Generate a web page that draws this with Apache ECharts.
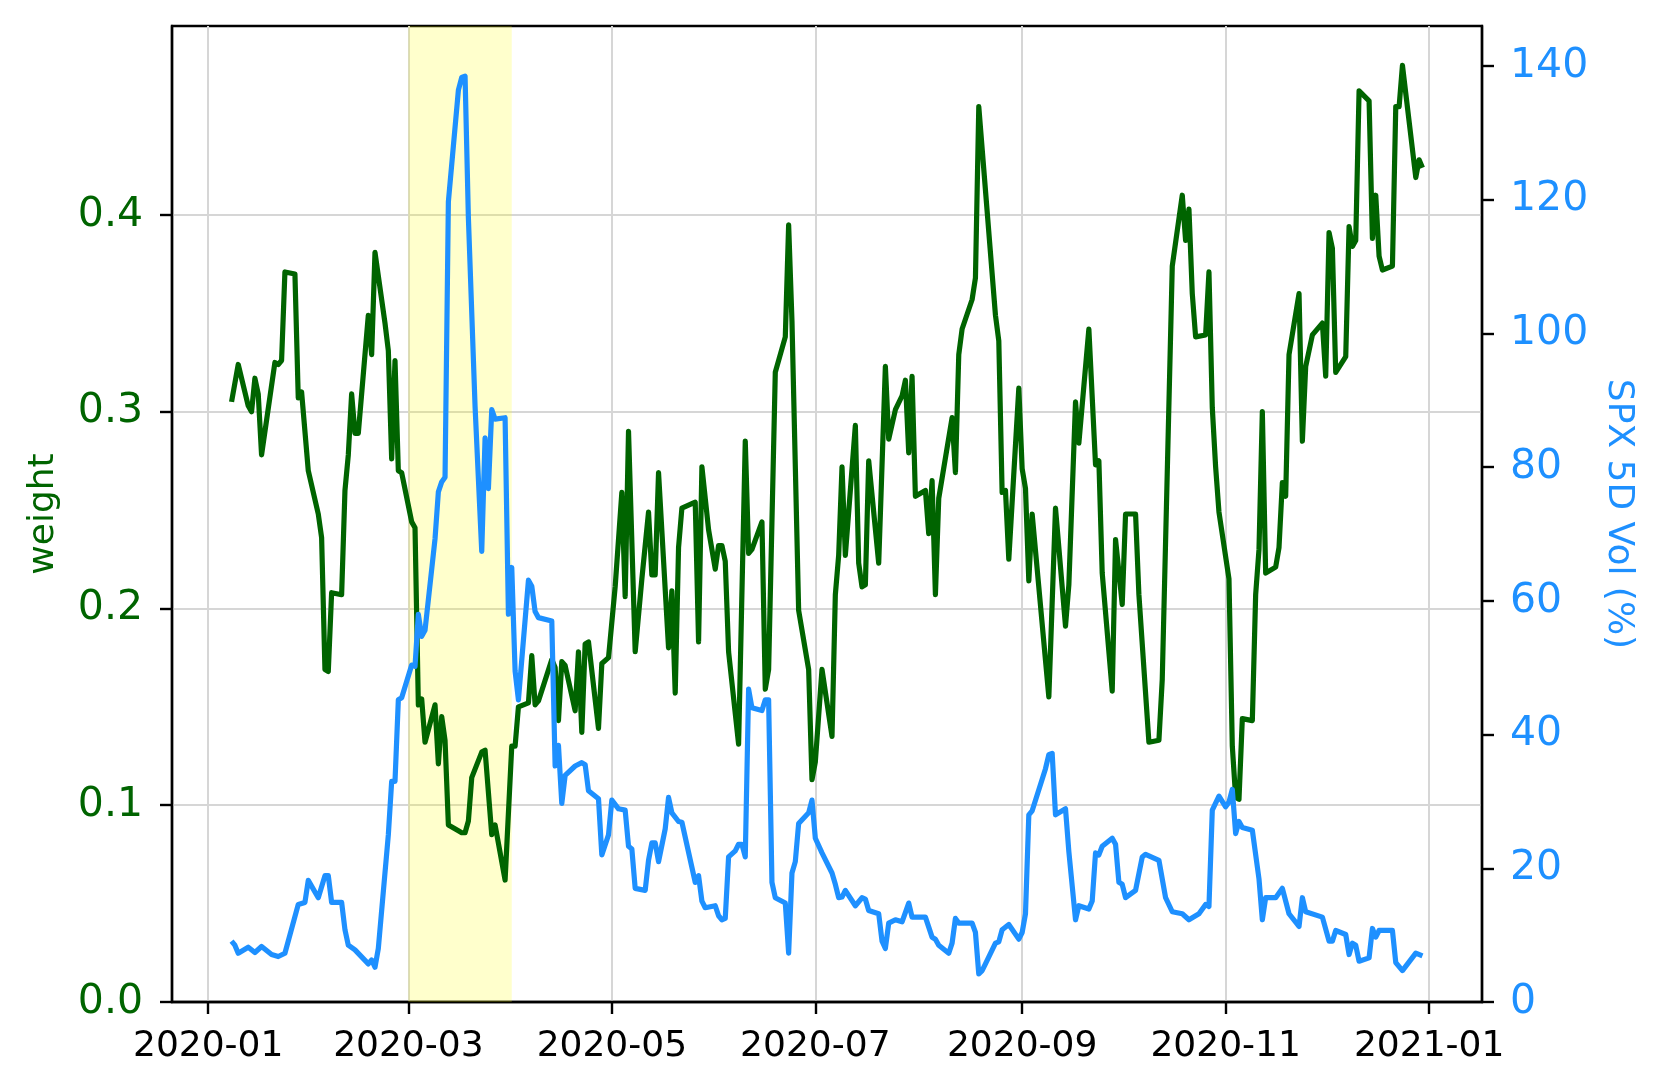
<!DOCTYPE html>
<html><head><meta charset="utf-8">
<script src="https://cdn.jsdelivr.net/npm/echarts@6/dist/echarts.min.js"></script>
<style>html,body{margin:0;padding:0;background:#fff}#c{width:1661px;height:1090px}</style>
</head><body><div id="c"></div>
<script>
const weightDates = ['2020-01-08','2020-01-10','2020-01-13','2020-01-14','2020-01-15','2020-01-16','2020-01-17','2020-01-21','2020-01-22','2020-01-23','2020-01-24','2020-01-27','2020-01-28','2020-01-29','2020-01-31',
'2020-02-03','2020-02-04','2020-02-05','2020-02-06','2020-02-07','2020-02-10','2020-02-11','2020-02-12','2020-02-13','2020-02-14','2020-02-15','2020-02-18','2020-02-19','2020-02-20','2020-02-23','2020-02-24','2020-02-25','2020-02-26','2020-02-27','2020-02-28',
'2020-03-02','2020-03-03','2020-03-04','2020-03-05','2020-03-06','2020-03-09','2020-03-10','2020-03-11','2020-03-12','2020-03-13','2020-03-16','2020-03-17','2020-03-18','2020-03-19','2020-03-20','2020-03-23','2020-03-24','2020-03-26','2020-03-27','2020-03-30',
'2020-04-01','2020-04-02','2020-04-03','2020-04-06','2020-04-07','2020-04-08','2020-04-09','2020-04-13','2020-04-14','2020-04-15','2020-04-16','2020-04-17','2020-04-20','2020-04-21','2020-04-22','2020-04-23','2020-04-24','2020-04-27','2020-04-28','2020-04-30',
'2020-05-02','2020-05-04','2020-05-05','2020-05-06','2020-05-08','2020-05-10','2020-05-12','2020-05-13','2020-05-14','2020-05-15','2020-05-18','2020-05-19','2020-05-20','2020-05-21','2020-05-22','2020-05-26','2020-05-27','2020-05-28','2020-05-30',
'2020-06-01','2020-06-02','2020-06-03','2020-06-04','2020-06-05','2020-06-08','2020-06-10','2020-06-11','2020-06-12','2020-06-15','2020-06-16','2020-06-17','2020-06-19','2020-06-22','2020-06-23','2020-06-24','2020-06-26','2020-06-29','2020-06-30',
'2020-07-01','2020-07-03','2020-07-06','2020-07-07','2020-07-08','2020-07-09','2020-07-10','2020-07-13','2020-07-14','2020-07-15','2020-07-16','2020-07-17','2020-07-20','2020-07-22','2020-07-23','2020-07-25','2020-07-27','2020-07-28','2020-07-29','2020-07-30','2020-07-31',
'2020-08-03','2020-08-04','2020-08-05','2020-08-06','2020-08-07','2020-08-11','2020-08-12','2020-08-13','2020-08-14','2020-08-17','2020-08-18','2020-08-19','2020-08-24','2020-08-25','2020-08-26','2020-08-27','2020-08-28','2020-08-31',
'2020-09-01','2020-09-02','2020-09-03','2020-09-04','2020-09-09','2020-09-11','2020-09-14','2020-09-15','2020-09-17','2020-09-18','2020-09-21','2020-09-23','2020-09-24','2020-09-25','2020-09-28','2020-09-29',
'2020-10-01','2020-10-02','2020-10-05','2020-10-06','2020-10-09','2020-10-12','2020-10-13','2020-10-16','2020-10-19','2020-10-20','2020-10-21','2020-10-22','2020-10-23','2020-10-26','2020-10-27','2020-10-28','2020-10-29','2020-10-30',
'2020-11-02','2020-11-03','2020-11-04','2020-11-05','2020-11-06','2020-11-09','2020-11-10','2020-11-11','2020-11-12','2020-11-13','2020-11-16','2020-11-17','2020-11-18','2020-11-19','2020-11-20','2020-11-23','2020-11-24','2020-11-25','2020-11-27','2020-11-30',
'2020-12-01','2020-12-02','2020-12-03','2020-12-04','2020-12-07','2020-12-08','2020-12-09','2020-12-10','2020-12-11','2020-12-14','2020-12-15','2020-12-16','2020-12-17','2020-12-18','2020-12-21','2020-12-22','2020-12-23','2020-12-24','2020-12-28','2020-12-29','2020-12-30'];
const weightValues = [0.305,0.324,0.303,0.300,0.317,0.309,0.278,0.325,0.324,0.326,0.371,0.370,0.307,0.310,0.270,
0.248,0.236,0.169,0.168,0.208,0.207,0.260,0.278,0.309,0.289,0.289,0.349,0.329,0.381,0.345,0.331,0.276,0.326,0.270,0.269,
0.244,0.241,0.151,0.154,0.132,0.151,0.121,0.145,0.133,0.090,0.087,0.086,0.086,0.092,0.114,0.127,0.128,0.085,0.090,0.062,
0.130,0.130,0.150,0.152,0.176,0.151,0.153,0.174,0.170,0.143,0.173,0.171,0.148,0.178,0.137,0.182,0.183,0.139,0.172,0.175,
0.211,0.259,0.206,0.290,0.178,0.215,0.249,0.217,0.217,0.269,0.180,0.209,0.157,0.231,0.251,0.254,0.183,0.272,0.240,
0.220,0.232,0.232,0.224,0.178,0.131,0.285,0.228,0.230,0.244,0.159,0.169,0.320,0.338,0.395,0.346,0.199,0.169,0.113,
0.122,0.169,0.135,0.207,0.227,0.272,0.227,0.293,0.223,0.211,0.212,0.275,0.223,0.323,0.286,0.301,0.308,0.316,0.279,0.318,0.257,
0.260,0.238,0.265,0.207,0.256,0.297,0.269,0.329,0.342,0.357,0.368,0.455,0.349,0.336,0.259,0.260,0.225,0.312,
0.271,0.261,0.214,0.248,0.155,0.251,0.191,0.212,0.305,0.284,0.342,0.273,0.275,0.218,0.158,0.235,
0.202,0.248,0.248,0.207,0.132,0.133,0.164,0.374,0.410,0.387,0.403,0.360,0.338,0.339,0.371,0.302,0.272,0.249,
0.215,0.130,0.104,0.103,0.144,0.143,0.207,0.230,0.300,0.218,0.221,0.231,0.264,0.257,0.329,0.360,0.285,0.323,0.339,0.345,
0.318,0.391,0.383,0.320,0.328,0.394,0.384,0.387,0.463,0.458,0.388,0.410,0.379,0.372,0.374,0.455,0.455,0.476,0.419,0.428,0.424];

const volDates = ['2020-01-08','2020-01-09','2020-01-10','2020-01-13','2020-01-15','2020-01-17','2020-01-20','2020-01-22','2020-01-24','2020-01-28','2020-01-30','2020-01-31',
'2020-02-03','2020-02-05','2020-02-06','2020-02-07','2020-02-10','2020-02-11','2020-02-12','2020-02-14','2020-02-18','2020-02-19','2020-02-20','2020-02-21','2020-02-24','2020-02-25','2020-02-26','2020-02-27','2020-02-28',
'2020-03-02','2020-03-03','2020-03-04','2020-03-05','2020-03-06','2020-03-09','2020-03-10','2020-03-11','2020-03-12','2020-03-13','2020-03-16','2020-03-17','2020-03-18','2020-03-19','2020-03-21','2020-03-23','2020-03-24','2020-03-25','2020-03-26','2020-03-27','2020-03-30','2020-03-31',
'2020-04-01','2020-04-02','2020-04-03','2020-04-06','2020-04-07','2020-04-08','2020-04-09','2020-04-13','2020-04-14','2020-04-15','2020-04-16','2020-04-17','2020-04-20','2020-04-22','2020-04-23','2020-04-24','2020-04-27','2020-04-28','2020-04-30',
'2020-05-01','2020-05-03','2020-05-05','2020-05-06','2020-05-07','2020-05-08','2020-05-11','2020-05-12','2020-05-13','2020-05-14','2020-05-15','2020-05-17','2020-05-18','2020-05-19','2020-05-21','2020-05-22','2020-05-26','2020-05-27','2020-05-28','2020-05-29',
'2020-06-01','2020-06-02','2020-06-03','2020-06-04','2020-06-05','2020-06-07','2020-06-08','2020-06-09','2020-06-10','2020-06-11','2020-06-12','2020-06-15','2020-06-16','2020-06-17','2020-06-18','2020-06-19','2020-06-22','2020-06-23','2020-06-24','2020-06-25','2020-06-26','2020-06-29','2020-06-30',
'2020-07-01','2020-07-03','2020-07-06','2020-07-07','2020-07-08','2020-07-09','2020-07-10','2020-07-13','2020-07-15','2020-07-16','2020-07-17','2020-07-20','2020-07-21','2020-07-22','2020-07-23','2020-07-25','2020-07-27','2020-07-29','2020-07-30',
'2020-08-03','2020-08-05','2020-08-06','2020-08-07','2020-08-10','2020-08-11','2020-08-12','2020-08-13','2020-08-17','2020-08-18','2020-08-19','2020-08-20','2020-08-21','2020-08-24','2020-08-25','2020-08-26','2020-08-28','2020-08-31',
'2020-09-01','2020-09-02','2020-09-03','2020-09-04','2020-09-08','2020-09-09','2020-09-10','2020-09-11','2020-09-14','2020-09-15','2020-09-17','2020-09-18','2020-09-21','2020-09-22','2020-09-23','2020-09-24','2020-09-25','2020-09-28','2020-09-29','2020-09-30',
'2020-10-01','2020-10-02','2020-10-05','2020-10-07','2020-10-08','2020-10-12','2020-10-14','2020-10-16','2020-10-19','2020-10-21','2020-10-24','2020-10-26','2020-10-27','2020-10-28','2020-10-30',
'2020-11-01','2020-11-02','2020-11-03','2020-11-04','2020-11-05','2020-11-06','2020-11-09','2020-11-11','2020-11-12','2020-11-13','2020-11-16','2020-11-18','2020-11-20','2020-11-23','2020-11-24','2020-11-25','2020-11-30',
'2020-12-02','2020-12-03','2020-12-04','2020-12-07','2020-12-08','2020-12-09','2020-12-10','2020-12-11','2020-12-14','2020-12-15','2020-12-16','2020-12-17','2020-12-21','2020-12-22','2020-12-24','2020-12-28','2020-12-30'];
const volValues = [9.1,8.5,7.3,8.2,7.4,8.3,7.1,6.8,7.3,14.6,14.9,18.2,
15.6,18.9,18.9,14.9,14.9,10.8,8.5,7.8,5.7,6.3,5.2,8.0,25.0,33.0,33.0,45.2,45.5,
50.4,50.2,58.0,54.7,55.6,69.3,76.3,77.8,78.5,119.7,136.4,138.3,138.5,117.3,89.1,67.4,84.4,76.8,88.6,87.2,87.4,58.0,
65.0,49.5,45.2,63.1,62.2,58.4,57.5,57.0,35.3,38.4,29.7,33.9,35.3,35.8,35.5,31.6,30.4,22.0,25.0,
30.2,28.9,28.7,23.3,22.9,17.0,16.7,21.2,23.8,23.8,21.0,25.9,30.6,28.3,27.0,26.9,17.9,18.9,15.1,14.1,
14.4,12.9,12.3,12.5,21.7,22.6,23.6,23.6,21.7,46.8,44.0,43.6,45.2,45.2,17.9,15.6,14.8,7.3,19.3,21.0,26.7,28.3,30.2,
24.5,22.3,19.3,17.6,15.6,15.7,16.7,14.4,15.6,15.4,13.7,13.2,9.1,8.0,11.8,12.3,12.0,14.8,12.7,
12.7,9.7,9.4,8.5,7.3,8.8,12.5,11.8,11.8,10.4,4.2,4.7,5.7,8.8,9.0,10.8,11.6,9.4,
10.4,13.2,28.0,28.6,34.9,37.0,37.2,28.0,28.9,22.5,12.3,14.4,13.9,15.1,22.3,22.0,23.3,24.5,23.6,17.9,
17.6,15.6,16.7,21.7,22.1,21.2,15.6,13.5,13.2,12.3,13.2,14.6,14.3,28.7,30.8,
29.2,29.9,31.8,25.2,27.0,26.1,25.7,18.4,12.3,15.6,15.6,17.0,13.2,11.3,15.6,13.5,12.7,
9.1,9.1,10.7,10.1,7.1,8.8,8.5,6.1,6.6,11.0,9.7,10.7,10.7,5.9,4.7,7.3,6.9];

const monthTicks = ['2020-01-01','2020-03-01','2020-05-01','2020-07-01','2020-09-01','2020-11-01','2021-01-01'];
const weightTicks = [0, 0.1, 0.2, 0.3, 0.4];
const volTicks = [0, 20, 40, 60, 80, 100, 120, 140];
const shadeRange = ['2020-03-01', '2020-04-01'];

function ts(s) { const p = s.split('-').map(Number); return new Date(p[0], p[1] - 1, p[2]).getTime(); }
const DAY = 86400000;
const FONT = 'DejaVu Sans';
const GREEN = '#006400', BLUE = '#1e90ff';

const chart = echarts.init(document.getElementById('c'), null, {renderer: 'canvas'});
chart.setOption({
  animation: false,
  backgroundColor: '#fff',
  grid: {left: 172, right: 179, top: 26, bottom: 88, show: true, borderColor: '#000', borderWidth: 2.4, backgroundColor: 'transparent'},
  xAxis: {
    type: 'value',
    min: ts('2019-12-21') + 0.15 * DAY,
    max: ts('2021-01-16') + 0.85 * DAY,
    axisLine: {show: true, lineStyle: {color: '#000', width: 2.4}},
    axisTick: {show: true, length: 12, lineStyle: {color: '#000', width: 2.4}, customValues: monthTicks.map(ts)},
    axisLabel: {
      customValues: monthTicks.map(ts), color: '#000', fontSize: 36, fontFamily: FONT, margin: 27, hideOverlap: false,
      formatter: function (v) { const d = new Date(v); return d.getFullYear() + '-' + String(d.getMonth() + 1).padStart(2, '0'); }
    },
    splitLine: {show: true, lineStyle: {color: '#d6d6d6', width: 2}}
  },
  yAxis: [{
    type: 'value', position: 'left', min: 0, max: 0.496,
    name: 'weight', nameLocation: 'middle', nameGap: 110, nameRotate: 90,
    nameTextStyle: {color: GREEN, fontSize: 36, fontFamily: FONT},
    axisLine: {show: true, lineStyle: {color: '#000', width: 2.4}},
    axisTick: {show: true, length: 12, lineStyle: {color: '#000', width: 2.4}, customValues: weightTicks},
    axisLabel: {customValues: weightTicks, color: GREEN, fontSize: 41, fontFamily: FONT, margin: 29, formatter: v => v.toFixed(1)},
    splitLine: {show: true, lineStyle: {color: '#d6d6d6', width: 2}}
  }, {
    type: 'value', position: 'right', min: 0, max: 146,
    name: 'SPX 5D Vol (%)', nameLocation: 'middle', nameGap: 118, nameRotate: -90,
    nameTextStyle: {color: BLUE, fontSize: 36, fontFamily: FONT},
    axisLine: {show: true, lineStyle: {color: '#000', width: 2.4}},
    axisTick: {show: true, length: 12, lineStyle: {color: '#000', width: 2.4}, customValues: volTicks},
    axisLabel: {customValues: volTicks, color: BLUE, fontSize: 41, fontFamily: FONT, margin: 28, formatter: v => String(Math.round(v))},
    splitLine: {show: false}
  }],
  series: [{
    type: 'line', yAxisIndex: 0, showSymbol: false, symbol: 'none',
    data: weightDates.map((d, i) => [ts(d), weightValues[i]]),
    lineStyle: {color: GREEN, width: 5.2, join: 'round', cap: 'butt'},
    itemStyle: {color: GREEN},
    markArea: {silent: true, itemStyle: {color: 'rgba(255,255,0,0.2)'},
      data: [[{xAxis: ts(shadeRange[0])}, {xAxis: ts(shadeRange[1])}]]}
  }, {
    type: 'line', yAxisIndex: 1, showSymbol: false, symbol: 'none',
    data: volDates.map((d, i) => [ts(d), volValues[i]]),
    lineStyle: {color: BLUE, width: 5.2, join: 'round', cap: 'butt'},
    itemStyle: {color: BLUE}
  }]
});
</script></body></html>
